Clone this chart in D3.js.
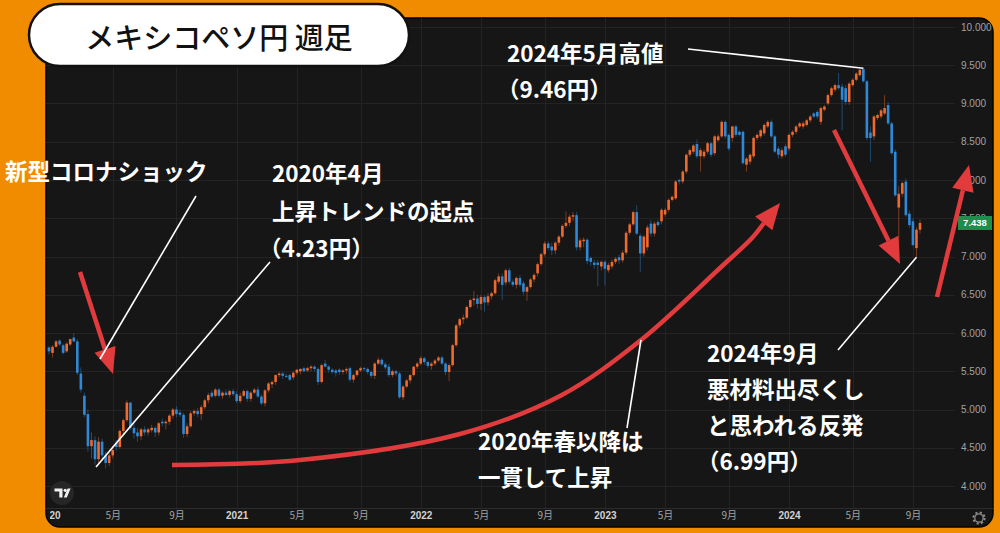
<!DOCTYPE html>
<html><head><meta charset="utf-8">
<script src="https://cdn.jsdelivr.net/npm/d3@7"></script>
<style>html,body{margin:0;padding:0;background:#f18b00;} svg{display:block}</style>
</head><body><svg id="c" width="1000" height="533"></svg>
<script>
// ---- DATA (weekly MXN/JPY candles) ----
const firstWeek = "2019-12-30";
const lastWeek = "2024-09-16";
const opens = [
5.81,5.74,5.82,5.90,5.84,5.76,5.85,5.94,5.89,5.47,
5.18,4.94,4.52,4.60,4.35,4.58,4.40,4.30,4.40,4.56,
4.51,4.72,4.86,5.09,4.76,4.70,4.65,4.74,4.70,4.73,
4.76,4.70,4.84,4.82,4.84,4.92,5.00,4.96,4.93,4.68,
4.78,4.95,4.98,4.94,5.03,5.12,5.22,5.18,5.26,5.18,
5.22,5.19,5.24,5.20,5.11,5.18,5.24,5.14,5.22,5.26,
5.17,5.08,5.25,5.33,5.36,5.45,5.47,5.44,5.45,5.42,
5.48,5.50,5.54,5.51,5.54,5.56,5.53,5.36,5.60,5.56,
5.52,5.51,5.52,5.49,5.51,5.54,5.39,5.45,5.51,5.54,
5.53,5.49,5.44,5.60,5.65,5.59,5.56,5.45,5.50,5.47,
5.16,5.30,5.38,5.45,5.56,5.60,5.67,5.62,5.57,5.60,
5.64,5.68,5.60,5.49,5.58,5.84,6.10,6.18,6.20,6.34,
6.43,6.45,6.38,6.47,6.40,6.48,6.52,6.67,6.74,6.66,
6.82,6.67,6.63,6.72,6.65,6.54,6.60,6.70,6.78,6.90,
7.03,7.17,7.13,7.08,7.18,7.26,7.40,7.44,7.52,7.54,
7.12,7.20,7.22,6.98,6.92,6.92,6.87,6.93,6.82,6.87,
6.93,6.99,6.95,7.05,7.31,7.42,7.58,7.27,7.04,7.12,
7.43,7.30,7.45,7.46,7.55,7.61,7.74,7.76,8.00,7.98,
8.11,8.33,8.37,8.47,8.31,8.31,8.37,8.48,8.35,8.52,
8.57,8.76,8.59,8.55,8.70,8.63,8.63,8.20,8.24,8.31,
8.55,8.57,8.61,8.70,8.76,8.57,8.41,8.31,8.44,8.41,
8.59,8.63,8.70,8.70,8.72,8.78,8.87,8.89,8.76,8.92,
9.00,9.11,9.18,9.24,9.22,9.20,9.02,9.24,9.31,9.37,
9.45,9.29,8.62,8.57,8.81,8.83,8.87,8.98,8.74,8.37,
7.64,7.82,7.98,7.56,7.46,7.11,7.35
];
const highs = [
5.83,5.84,5.91,5.92,5.86,5.88,5.93,6.00,5.92,5.55,
5.22,5.00,4.70,4.65,4.64,4.62,4.45,4.44,4.52,4.60,
4.74,4.88,5.12,5.10,4.82,4.76,4.76,4.78,4.76,4.80,
4.78,4.84,4.88,4.86,4.94,5.02,5.04,5.00,4.96,4.82,
4.98,5.00,5.02,5.06,5.14,5.22,5.25,5.28,5.28,5.24,
5.26,5.26,5.27,5.24,5.22,5.26,5.26,5.24,5.28,5.30,
5.20,5.27,5.36,5.38,5.46,5.49,5.49,5.47,5.47,5.50,
5.53,5.54,5.56,5.56,5.58,5.58,5.55,5.60,5.65,5.58,
5.54,5.53,5.54,5.53,5.55,5.56,5.47,5.52,5.56,5.56,
5.55,5.51,5.62,5.68,5.67,5.62,5.60,5.52,5.52,5.49,
5.32,5.40,5.46,5.57,5.62,5.70,5.69,5.64,5.62,5.66,
5.70,5.70,5.62,5.60,5.86,6.12,6.20,6.24,6.36,6.45,
6.55,6.50,6.50,6.49,6.52,6.54,6.71,6.78,6.78,6.84,
6.85,6.70,6.74,6.76,6.68,6.62,6.72,6.78,6.92,7.05,
7.20,7.20,7.18,7.20,7.28,7.42,7.59,7.55,7.58,7.58,
7.24,7.25,7.24,7.00,6.96,6.95,6.95,6.95,6.92,6.96,
6.99,7.02,7.08,7.33,7.44,7.60,7.67,7.30,7.28,7.41,
7.48,7.46,7.48,7.63,7.63,7.76,7.80,8.00,8.02,8.13,
8.35,8.41,8.47,8.53,8.42,8.40,8.50,8.50,8.59,8.60,
8.78,8.78,8.61,8.71,8.72,8.65,8.65,8.30,8.35,8.57,
8.61,8.67,8.74,8.78,8.79,8.59,8.44,8.42,8.47,8.61,
8.65,8.72,8.76,8.77,8.80,8.85,8.89,8.91,8.96,8.98,
9.13,9.22,9.26,9.40,9.26,9.24,9.28,9.33,9.41,9.45,
9.46,9.31,8.70,8.85,8.87,8.93,9.11,9.02,8.76,8.40,
7.92,7.98,8.02,7.60,7.50,7.38,7.48
];
const lows = [
5.72,5.68,5.81,5.83,5.72,5.74,5.83,5.88,5.45,5.22,
4.90,4.45,4.36,4.28,4.30,4.34,4.23,4.26,4.36,4.46,
4.49,4.68,4.84,4.73,4.62,4.58,4.60,4.66,4.66,4.70,
4.64,4.66,4.78,4.74,4.80,4.88,4.90,4.90,4.63,4.64,
4.76,4.92,4.90,4.86,5.00,5.08,5.15,5.16,5.16,5.14,
5.18,5.16,5.18,5.08,5.08,5.16,5.10,5.10,5.20,5.15,
5.06,5.04,5.22,5.28,5.32,5.42,5.40,5.41,5.37,5.39,
5.45,5.46,5.49,5.49,5.50,5.50,5.32,5.34,5.55,5.48,
5.46,5.43,5.45,5.46,5.47,5.36,5.35,5.43,5.49,5.50,
5.46,5.41,5.40,5.58,5.57,5.52,5.42,5.42,5.44,5.14,
5.12,5.28,5.34,5.43,5.53,5.58,5.58,5.54,5.52,5.57,
5.62,5.58,5.45,5.37,5.56,5.82,6.06,6.12,6.18,6.32,
6.36,6.32,6.30,6.28,6.36,6.44,6.50,6.64,6.43,6.62,
6.64,6.60,6.58,6.60,6.50,6.42,6.58,6.66,6.74,6.88,
7.00,7.08,7.02,7.03,7.14,7.24,7.37,7.40,7.46,7.08,
7.08,7.12,6.90,6.88,6.84,6.61,6.82,6.62,6.79,6.84,
6.90,6.90,6.92,7.02,7.28,7.40,7.28,6.80,7.00,7.08,
7.26,7.26,7.39,7.42,7.52,7.58,7.72,7.74,7.94,7.95,
8.08,8.30,8.34,8.28,8.11,8.28,8.34,8.30,8.32,8.50,
8.55,8.54,8.38,8.50,8.56,8.57,8.20,8.11,8.20,8.28,
8.52,8.54,8.58,8.68,8.55,8.35,8.28,8.28,8.30,8.38,
8.56,8.60,8.68,8.67,8.70,8.75,8.81,8.80,8.72,8.90,
8.98,9.09,9.15,9.18,8.65,8.98,8.98,9.22,9.29,9.35,
9.27,8.52,8.24,8.52,8.78,8.80,8.85,8.72,8.33,7.78,
7.02,7.78,7.52,7.38,7.13,6.99,7.30
];
const closes = [
5.76,5.82,5.89,5.85,5.74,5.86,5.92,5.89,5.48,5.26,
4.93,4.52,4.60,4.35,4.58,4.40,4.30,4.40,4.47,4.51,
4.72,4.86,5.09,4.76,4.69,4.65,4.74,4.70,4.74,4.76,
4.70,4.82,4.82,4.84,4.92,5.00,4.94,4.93,4.68,4.78,
4.95,4.98,4.94,5.03,5.12,5.19,5.17,5.26,5.18,5.22,
5.19,5.24,5.20,5.11,5.18,5.24,5.14,5.22,5.26,5.17,
5.08,5.25,5.34,5.36,5.45,5.47,5.44,5.43,5.39,5.48,
5.52,5.53,5.50,5.54,5.56,5.53,5.36,5.58,5.56,5.52,
5.49,5.48,5.49,5.51,5.53,5.39,5.45,5.51,5.54,5.53,
5.49,5.44,5.60,5.65,5.59,5.55,5.45,5.50,5.47,5.16,
5.30,5.38,5.45,5.56,5.60,5.67,5.62,5.57,5.60,5.64,
5.68,5.60,5.49,5.58,5.84,6.10,6.18,6.20,6.34,6.43,
6.45,6.38,6.47,6.40,6.48,6.52,6.69,6.74,6.63,6.82,
6.67,6.63,6.72,6.63,6.54,6.60,6.70,6.76,6.90,7.03,
7.17,7.11,7.08,7.18,7.26,7.40,7.44,7.52,7.54,7.12,
7.21,7.22,6.94,6.93,6.89,6.89,6.93,6.84,6.89,6.93,
6.97,6.95,7.05,7.31,7.42,7.58,7.30,7.04,7.26,7.38,
7.30,7.43,7.41,7.61,7.61,7.74,7.78,7.98,7.98,8.11,
8.33,8.39,8.45,8.31,8.39,8.37,8.48,8.33,8.57,8.57,
8.76,8.57,8.41,8.70,8.59,8.59,8.22,8.28,8.33,8.55,
8.59,8.65,8.72,8.76,8.57,8.37,8.33,8.39,8.33,8.59,
8.63,8.70,8.74,8.74,8.78,8.83,8.83,8.83,8.94,8.96,
9.11,9.20,9.24,9.20,9.05,9.02,9.26,9.31,9.39,9.44,
9.29,8.55,8.55,8.83,8.85,8.91,8.94,8.74,8.35,7.80,
7.82,7.96,7.54,7.41,7.15,7.35,7.438
];
const yTicks = [4, 4.5, 5, 5.5, 6, 6.5, 7, 7.5, 8, 8.5, 9, 9.5, 10];
const xTickMonths = ["2020-01","2020-05","2020-09","2021-01","2021-05","2021-09","2022-01","2022-05","2022-09","2023-01","2023-05","2023-09","2024-01","2024-05","2024-09"];
const xTickLabels = ["2020","5月","9月","2021","5月","9月","2022","5月","9月","2023","5月","9月","2024","5月","9月"];
const lastPrice = 7.438;

// ---- BUILD ----
const weeks = d3.utcMonday.range(new Date(firstWeek + "T00:00:00Z"), d3.utcDay.offset(new Date(lastWeek + "T00:00:00Z"), 1));
const data = weeks.map((d, i) => ({date: d, o: opens[i], h: highs[i], l: lows[i], c: closes[i]}));

const UP = "#ee6a2e", DOWN = "#2f89d6";
const svg = d3.select("#c");
svg.append("rect").attr("width", 1000).attr("height", 533).attr("fill", "#f18b00");

const panel = {x: 46, y: 18, w: 947, h: 509, r: 14};
const plot = {left: 46, right: 955, top: 18, bottom: 508};
const defs = svg.append("defs");
defs.append("clipPath").attr("id", "panelClip").append("rect")
  .attr("x", panel.x).attr("y", panel.y).attr("width", panel.w).attr("height", panel.h).attr("rx", panel.r);
defs.append("clipPath").attr("id", "plotClip").append("rect")
  .attr("x", plot.left).attr("y", plot.top).attr("width", plot.right - plot.left).attr("height", plot.bottom - plot.top);
defs.append("clipPath").attr("id", "timeClip").append("rect")
  .attr("x", 50).attr("y", plot.bottom).attr("width", 905).attr("height", 19);

svg.append("rect").attr("x", panel.x).attr("y", panel.y).attr("width", panel.w).attr("height", panel.h)
  .attr("rx", panel.r).attr("fill", "#161616").attr("stroke", "#050505").attr("stroke-width", 1.5);

const x = d3.scaleUtc().domain([Date.UTC(2020, 0, 1), Date.UTC(2024, 0, 1)]).range([50, 789]);
const y = d3.scaleLinear().domain([4, 10]).range([486, 27]);

const inPanel = svg.append("g").attr("clip-path", "url(#panelClip)");

// tick dates = first weekly bar of each month (first tick: first bar on the chart)
const tickDates = xTickMonths.map((m, i) => i === 0 ? weeks[0] :
  (weeks.find(w => d3.utcFormat("%Y-%m")(w) === m) || new Date(m + "-01T00:00:00Z")));

// grid
const grid = inPanel.append("g").attr("stroke", "#232323").attr("stroke-width", 1);
grid.selectAll("line.h").data(yTicks).join("line")
  .attr("x1", plot.left).attr("x2", plot.right)
  .attr("y1", d => Math.round(y(d)) + 0.5).attr("y2", d => Math.round(y(d)) + 0.5);
grid.selectAll("line.v").data(tickDates.slice(1)).join("line")
  .attr("x1", d => Math.round(x(d)) + 0.5).attr("x2", d => Math.round(x(d)) + 0.5)
  .attr("y1", plot.top).attr("y2", plot.bottom);
inPanel.append("line").attr("x1", panel.x).attr("x2", panel.x + panel.w)
  .attr("y1", plot.bottom + 0.5).attr("y2", plot.bottom + 0.5).attr("stroke", "#2c2c2c");

// y axis labels
const yAxis = d3.axisRight(y).tickValues(yTicks).tickFormat(d3.format(".3f")).tickSize(0).tickPadding(0);
const gy = inPanel.append("g").attr("transform", "translate(961,0)").call(yAxis);
gy.select(".domain").remove();
gy.selectAll("text").attr("fill", "#a2a2a2").style("font", "10px 'Liberation Sans', Arial, sans-serif");

// x axis labels
const xAxis = d3.axisBottom(x).tickValues(tickDates).tickFormat((d, i) => xTickLabels[i]).tickSize(0).tickPadding(0);
const gx = svg.append("g").attr("clip-path", "url(#timeClip)").append("g").attr("transform", "translate(0,512)").call(xAxis);
gx.select(".domain").remove();
gx.selectAll("text").each(function(d, i) {
  const isYear = /^\d{4}$/.test(xTickLabels[i]);
  d3.select(this)
    .attr("fill", isYear ? "#d2d2d2" : "#a2a2a2")
    .style("font-family", isYear ? "'Liberation Sans', Arial, sans-serif" : "'Noto Sans CJK JP', sans-serif")
    .style("font-size", "10px")
    .style("font-weight", isYear ? "700" : "400");
});

// candles
const bw = 2.6;
const cg = svg.append("g").attr("clip-path", "url(#plotClip)");
cg.selectAll("line.wick").data(data).join("line")
  .attr("x1", d => x(d.date)).attr("x2", d => x(d.date))
  .attr("y1", d => y(d.h)).attr("y2", d => y(d.l))
  .attr("stroke", d => d.c >= d.o ? UP : DOWN).attr("stroke-opacity", 0.45).attr("stroke-width", 1);
cg.selectAll("rect.body").data(data).join("rect")
  .attr("x", d => x(d.date) - bw / 2).attr("width", bw)
  .attr("y", d => y(Math.max(d.o, d.c)))
  .attr("height", d => Math.max(1, Math.abs(y(d.o) - y(d.c))))
  .attr("fill", d => d.c >= d.o ? UP : DOWN);

// last price label
inPanel.append("rect").attr("x", 958).attr("y", y(lastPrice) - 7).attr("width", 34).attr("height", 14)
  .attr("fill", "#1f8d4c");
inPanel.append("text").attr("x", 975).attr("y", y(lastPrice)).attr("text-anchor", "middle")
  .attr("dominant-baseline", "central").attr("fill", "#fff")
  .style("font", "700 9.5px 'Liberation Sans', Arial, sans-serif").text(d3.format(".3f")(lastPrice));

// TradingView-like logo and settings icon
const logo = inPanel.append("g");
logo.append("circle").attr("cx", 62).attr("cy", 493).attr("r", 12).attr("fill", "#262626");
logo.append("path").attr("d", "M54.5,488.5 h8 v9 h-3.2 v-6 h-4.8 z").attr("fill", "#f0f0f0");
logo.append("circle").attr("cx", 65.2).attr("cy", 490.3).attr("r", 1.6).attr("fill", "#f0f0f0");
logo.append("path").attr("d", "M63.8,497.5 L67.6,488.5 L70.6,488.5 L66.8,497.5 z").attr("fill", "#f0f0f0");
const gear = inPanel.append("g").attr("fill", "none").attr("stroke", "#8a8a8a");
gear.append("circle").attr("cx", 979).attr("cy", 518).attr("r", 4.2).attr("stroke-width", 1.3);
gear.append("circle").attr("cx", 979).attr("cy", 518).attr("r", 5.6).attr("stroke-width", 2).attr("stroke-dasharray", "2.2 2.2");

// ---- ANNOTATIONS ----
const ann = svg.append("g");
const RED = "#e23b3d";
function arrowHead(tip, from, len, half) {
  const dx = tip[0] - from[0], dy = tip[1] - from[1];
  const L = Math.hypot(dx, dy), ux = dx / L, uy = dy / L;
  const bx = tip[0] - ux * len, by = tip[1] - uy * len;
  return {base: [bx, by], pts: [[tip[0], tip[1]], [bx - uy * half, by + ux * half], [bx + uy * half, by - ux * half]]};
}
function straightArrow(start, tip) {
  const h = arrowHead(tip, start, 26, 11);
  ann.append("line").attr("x1", start[0]).attr("y1", start[1]).attr("x2", h.base[0]).attr("y2", h.base[1])
    .attr("stroke", RED).attr("stroke-width", 4.5);
  ann.append("polygon").attr("points", h.pts.map(p => p.join(",")).join(" ")).attr("fill", RED);
}
function curvedArrow(pts, tip) {
  const h = arrowHead(tip, pts[pts.length - 1], 26, 11);
  const all = pts.concat([h.base]);
  ann.append("path").attr("d", d3.line().curve(d3.curveCatmullRom)(all))
    .attr("fill", "none").attr("stroke", RED).attr("stroke-width", 4.5);
  ann.append("polygon").attr("points", h.pts.map(p => p.join(",")).join(" ")).attr("fill", RED);
}
straightArrow([80, 272], [113, 374]);
curvedArrow([[172, 465], [300, 460], [460, 434], [560, 396], [641, 340], [720, 268], [752, 238]], [780, 203]);
straightArrow([834, 130], [900, 264]);
straightArrow([937, 297], [969, 165]);

// white leader lines
const leaders = [
  [[688, 49], [x(weeks[230]), y(9.46)]],
  [[196, 196], [100, 359]],
  [[270, 262], [96, 467]],
  [[627, 428], [641, 340]],
  [[838, 350], [x(weeks[245]), y(6.99)]]
];
ann.selectAll("line.leader").data(leaders).join("line")
  .attr("x1", d => d[0][0]).attr("y1", d => d[0][1]).attr("x2", d => d[1][0]).attr("y2", d => d[1][1])
  .attr("stroke", "#ffffff").attr("stroke-width", 1.6);

const notes = [
  ["2024年5月高値", 507, 52], ["（9.46円）", 497, 88],
  ["新型コロナショック", 5, 170],
  ["2020年4月", 272, 172], ["上昇トレンドの起点", 272, 210], ["（4.23円）", 259, 247],
  ["2020年春以降は", 478, 440], ["一貫して上昇", 478, 476],
  ["2024年9月", 707, 352], ["悪材料出尽くし", 707, 388], ["と思われる反発", 707, 424], ["（6.99円）", 697, 460]
];
ann.selectAll("text.note").data(notes).join("text")
  .attr("x", d => d[1]).attr("y", d => d[2]).attr("dominant-baseline", "central")
  .attr("fill", "#ffffff")
  .style("font-family", "'Noto Sans CJK JP', sans-serif").style("font-weight", "700").style("font-size", "22.5px")
  .text(d => d[0]);

// title pill
svg.append("rect").attr("x", 29).attr("y", 4).attr("width", 380).attr("height", 62).attr("rx", 31)
  .attr("fill", "#ffffff").attr("stroke", "#111").attr("stroke-width", 2.5);
svg.append("text").attr("x", 219).attr("y", 36).attr("text-anchor", "middle").attr("dominant-baseline", "central")
  .attr("fill", "#111").style("font-family", "'Noto Sans CJK JP', sans-serif").style("font-weight", "500")
  .style("font-size", "29px").text("メキシコペソ円 週足");
</script>
</body></html>
